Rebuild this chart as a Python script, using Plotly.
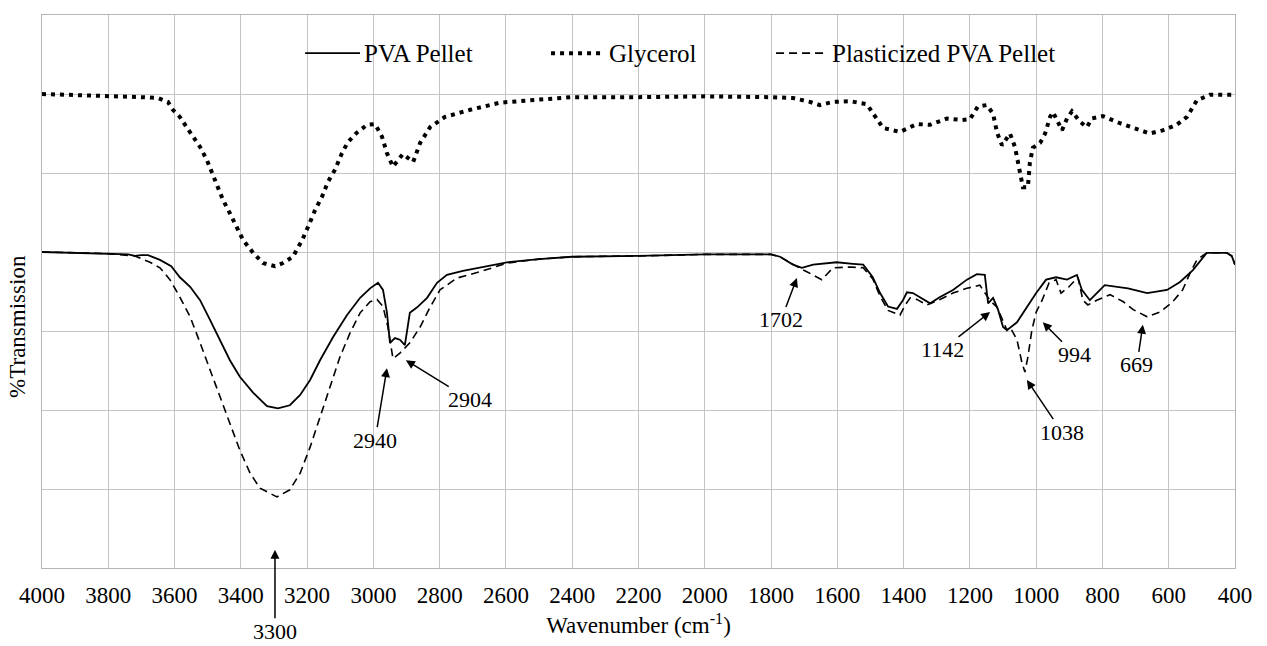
import plotly.graph_objects as go

# ---------------- data (wavenumber cm-1, relative %T in grid units) ----------------
gly_wn = [4000, 3900, 3800, 3750, 3700, 3650, 3620, 3605, 3584, 3562, 3544, 3523, 3502, 3487,
          3472, 3454, 3433, 3412, 3393, 3363, 3333, 3297, 3273, 3243, 3215, 3197, 3176, 3155,
          3137, 3116, 3095, 3077, 3050, 3019, 2995, 2974, 2959, 2941, 2911, 2880, 2859, 2829,
          2784, 2708, 2618, 2497, 2400, 2200, 2000, 1800, 1734, 1683, 1653, 1613, 1562, 1511,
          1487, 1462, 1411, 1360, 1320, 1269, 1224, 1200, 1176, 1149, 1130, 1118, 1103, 1079,
          1064, 1049, 1040, 1025, 1019, 1010, 988, 973, 958, 949, 934, 922, 907, 892, 868, 847,
          832, 799, 747, 696, 657, 618, 576, 545, 515, 476, 415, 400]
gly_t = [6.00, 5.99, 5.97, 5.97, 5.96, 5.95, 5.90, 5.80, 5.71, 5.57, 5.46, 5.33, 5.16, 5.00,
         4.82, 4.66, 4.49, 4.32, 4.15, 3.99, 3.86, 3.82, 3.86, 3.94, 4.15, 4.32, 4.53, 4.70,
         4.89, 5.04, 5.25, 5.39, 5.51, 5.61, 5.62, 5.46, 5.25, 5.08, 5.24, 5.14, 5.38, 5.58,
         5.71, 5.80, 5.89, 5.93, 5.96, 5.96, 5.97, 5.96, 5.95, 5.90, 5.86, 5.90, 5.91, 5.87,
         5.73, 5.57, 5.52, 5.62, 5.61, 5.69, 5.67, 5.68, 5.84, 5.86, 5.75, 5.51, 5.35, 5.50,
         5.33, 5.04, 4.82, 4.82, 5.13, 5.32, 5.38, 5.50, 5.71, 5.77, 5.65, 5.54, 5.69, 5.78,
         5.65, 5.58, 5.69, 5.72, 5.63, 5.56, 5.50, 5.54, 5.61, 5.71, 5.92, 5.99, 5.99, 5.99]

pva_wn = [4000, 3900, 3800, 3740, 3720, 3700, 3680, 3644, 3610, 3584, 3553, 3523, 3493, 3463,
          3433, 3403, 3363, 3321, 3288, 3252, 3221, 3191, 3161, 3122, 3080, 3040, 3010, 2986,
          2971, 2959, 2950, 2935, 2920, 2905, 2890, 2868, 2838, 2808, 2778, 2730, 2678, 2597,
          2500, 2400, 2200, 2000, 1800, 1773, 1734, 1707, 1673, 1602, 1553, 1522, 1493, 1471,
          1447, 1420, 1402, 1390, 1372, 1351, 1320, 1290, 1251, 1209, 1179, 1155, 1145, 1130,
          1115, 1100, 1088, 1058, 1028, 1000, 970, 940, 907, 877, 862, 838, 817, 793, 723, 665,
          605, 566, 527, 485, 425, 410, 400]
pva_t = [4.00, 3.99, 3.98, 3.97, 3.95, 3.96, 3.96, 3.90, 3.82, 3.68, 3.56, 3.39, 3.14, 2.89,
         2.63, 2.42, 2.22, 2.05, 2.02, 2.06, 2.19, 2.38, 2.63, 2.92, 3.20, 3.42, 3.54, 3.61,
         3.52, 3.23, 2.85, 2.91, 2.89, 2.82, 3.23, 3.30, 3.42, 3.61, 3.71, 3.76, 3.80, 3.87,
         3.91, 3.94, 3.95, 3.97, 3.97, 3.94, 3.84, 3.80, 3.84, 3.87, 3.85, 3.84, 3.68, 3.48,
         3.31, 3.28, 3.39, 3.49, 3.48, 3.43, 3.35, 3.43, 3.52, 3.65, 3.72, 3.71, 3.35, 3.42,
         3.27, 3.05, 3.01, 3.11, 3.31, 3.48, 3.65, 3.68, 3.65, 3.71, 3.52, 3.39, 3.48, 3.58,
         3.54, 3.48, 3.52, 3.62, 3.77, 3.99, 3.99, 3.95, 3.84]

ppva_wn = [4000, 3800, 3720, 3674, 3644, 3614, 3584, 3553, 3523, 3493, 3463, 3433, 3403, 3372,
           3342, 3291, 3252, 3221, 3191, 3161, 3131, 3101, 3071, 3040, 3010, 2989, 2971, 2956,
           2941, 2920, 2890, 2859, 2829, 2799, 2748, 2678, 2597, 2500, 2400, 2200, 2000, 1800,
           1773, 1734, 1707, 1692, 1647, 1613, 1562, 1522, 1493, 1471, 1447, 1411, 1395, 1380,
           1360, 1330, 1290, 1251, 1209, 1170, 1140, 1118, 1088, 1079, 1058, 1043, 1034, 1025,
           1013, 1000, 982, 961, 940, 925, 901, 874, 859, 844, 817, 777, 737, 707, 665, 626,
           588, 558, 536, 515, 485, 425, 410, 400]
ppva_t = [4.00, 3.98, 3.95, 3.87, 3.80, 3.65, 3.43, 3.18, 2.85, 2.51, 2.16, 1.84, 1.49, 1.20,
          1.01, 0.90, 0.99, 1.20, 1.53, 1.91, 2.29, 2.67, 2.97, 3.23, 3.37, 3.40, 3.31, 3.05,
          2.65, 2.72, 2.85, 3.05, 3.30, 3.52, 3.67, 3.75, 3.86, 3.91, 3.94, 3.95, 3.97, 3.97,
          3.94, 3.84, 3.78, 3.75, 3.65, 3.80, 3.81, 3.80, 3.66, 3.44, 3.26, 3.20, 3.33, 3.42,
          3.40, 3.33, 3.40, 3.48, 3.54, 3.58, 3.39, 3.30, 3.01, 3.05, 2.89, 2.60, 2.48, 2.67,
          3.01, 3.24, 3.39, 3.61, 3.65, 3.48, 3.56, 3.68, 3.39, 3.33, 3.39, 3.46, 3.37, 3.27,
          3.18, 3.24, 3.37, 3.52, 3.73, 3.90, 3.99, 3.99, 3.95, 3.84]

series_names = ["PVA Pellet", "Glycerol", "Plasticized PVA Pellet"]

# peak annotations: label, arrow head (wn, T), label position (wn, T)
peak_labels = ["3300", "2940", "2904", "1702", "1142", "1038", "994", "669"]
peak_head_wn = [3297, 2959, 2902, 1722, 1139, 1028, 980, 678]
peak_head_t = [0.23, 2.53, 2.63, 3.67, 3.24, 2.38, 3.11, 3.08]
peak_text_wn = [3297, 2995, 2709, 1770, 1284, 922, 883, 696]
peak_text_t = [-0.80, 1.62, 2.13, 3.14, 2.76, 1.72, 2.70, 2.57]

FONT = "Liberation Serif, Times New Roman, DejaVu Serif, serif"

fig = go.Figure()
fig.add_trace(go.Scatter(x=pva_wn, y=pva_t, mode="lines", name=series_names[0],
                         line=dict(color="black", width=1.8), showlegend=False))
fig.add_trace(go.Scatter(x=gly_wn, y=gly_t, mode="lines", name=series_names[1],
                         line=dict(color="black", width=4, dash="4px,5px"), showlegend=False))
fig.add_trace(go.Scatter(x=ppva_wn, y=ppva_t, mode="lines", name=series_names[2],
                         line=dict(color="black", width=1.6, dash="8px,5px"), showlegend=False))

annotations = []
for lab, hx, hy, tx, ty in zip(peak_labels, peak_head_wn, peak_head_t, peak_text_wn, peak_text_t):
    annotations.append(dict(x=hx, y=hy, xref="x", yref="y", ax=tx, ay=ty, axref="x", ayref="y",
                            text=lab, showarrow=True, arrowhead=2, arrowsize=1.2, arrowwidth=1.5,
                            arrowcolor="black", borderpad=0,
                            font=dict(family=FONT, size=22, color="black")))

# manual legend (line samples + labels) in paper coordinates
leg_y = 0.931
leg_x0 = [0.2205, 0.4267, 0.6153]
leg_x1 = [0.2666, 0.4719, 0.6589]
leg_styles = [dict(color="black", width=1.8),
              dict(color="black", width=4, dash="4px,5px"),
              dict(color="black", width=1.6, dash="8px,5px")]
shapes = []
for name, x0, x1, st in zip(series_names, leg_x0, leg_x1, leg_styles):
    shapes.append(dict(type="line", xref="paper", yref="paper", x0=x0, x1=x1, y0=leg_y, y1=leg_y,
                       line=st))
    annotations.append(dict(x=x1 + 0.002, y=leg_y, xref="paper", yref="paper", text=name,
                            showarrow=False, xanchor="left", yanchor="middle",
                            font=dict(family=FONT, size=25, color="black")))

annotations.append(dict(x=-0.0201, y=0.436, xref="paper", yref="paper", text="%Transmission",
                        textangle=-90, showarrow=False, xanchor="center", yanchor="middle",
                        font=dict(family=FONT, size=23, color="black")))

fig.update_layout(
    width=1267, height=646,
    margin=dict(l=42, r=32, t=15, b=78),
    paper_bgcolor="white", plot_bgcolor="white",
    font=dict(family=FONT, size=23, color="black"),
    showlegend=False,
    annotations=annotations,
    shapes=shapes,
    xaxis=dict(range=[4000, 400], tick0=400, dtick=200, showgrid=True, gridcolor="#c4c4c4",
               gridwidth=1, showline=True, linecolor="#b5b5b5", linewidth=1, mirror=True,
               zeroline=False, ticks="", ticklabelstandoff=6,
               tickfont=dict(family=FONT, size=23, color="black"),
               title=dict(text="Wavenumber (cm<sup>-1</sup>)", standoff=10,
                          font=dict(family=FONT, size=23, color="black")),
               automargin=False),
    yaxis=dict(range=[0, 7], dtick=1, showgrid=True, gridcolor="#c4c4c4", gridwidth=1,
               showline=True, linecolor="#b5b5b5", linewidth=1, mirror=True, zeroline=False,
               showticklabels=False, ticks="", automargin=False),
)

fig.write_html("out.html")
